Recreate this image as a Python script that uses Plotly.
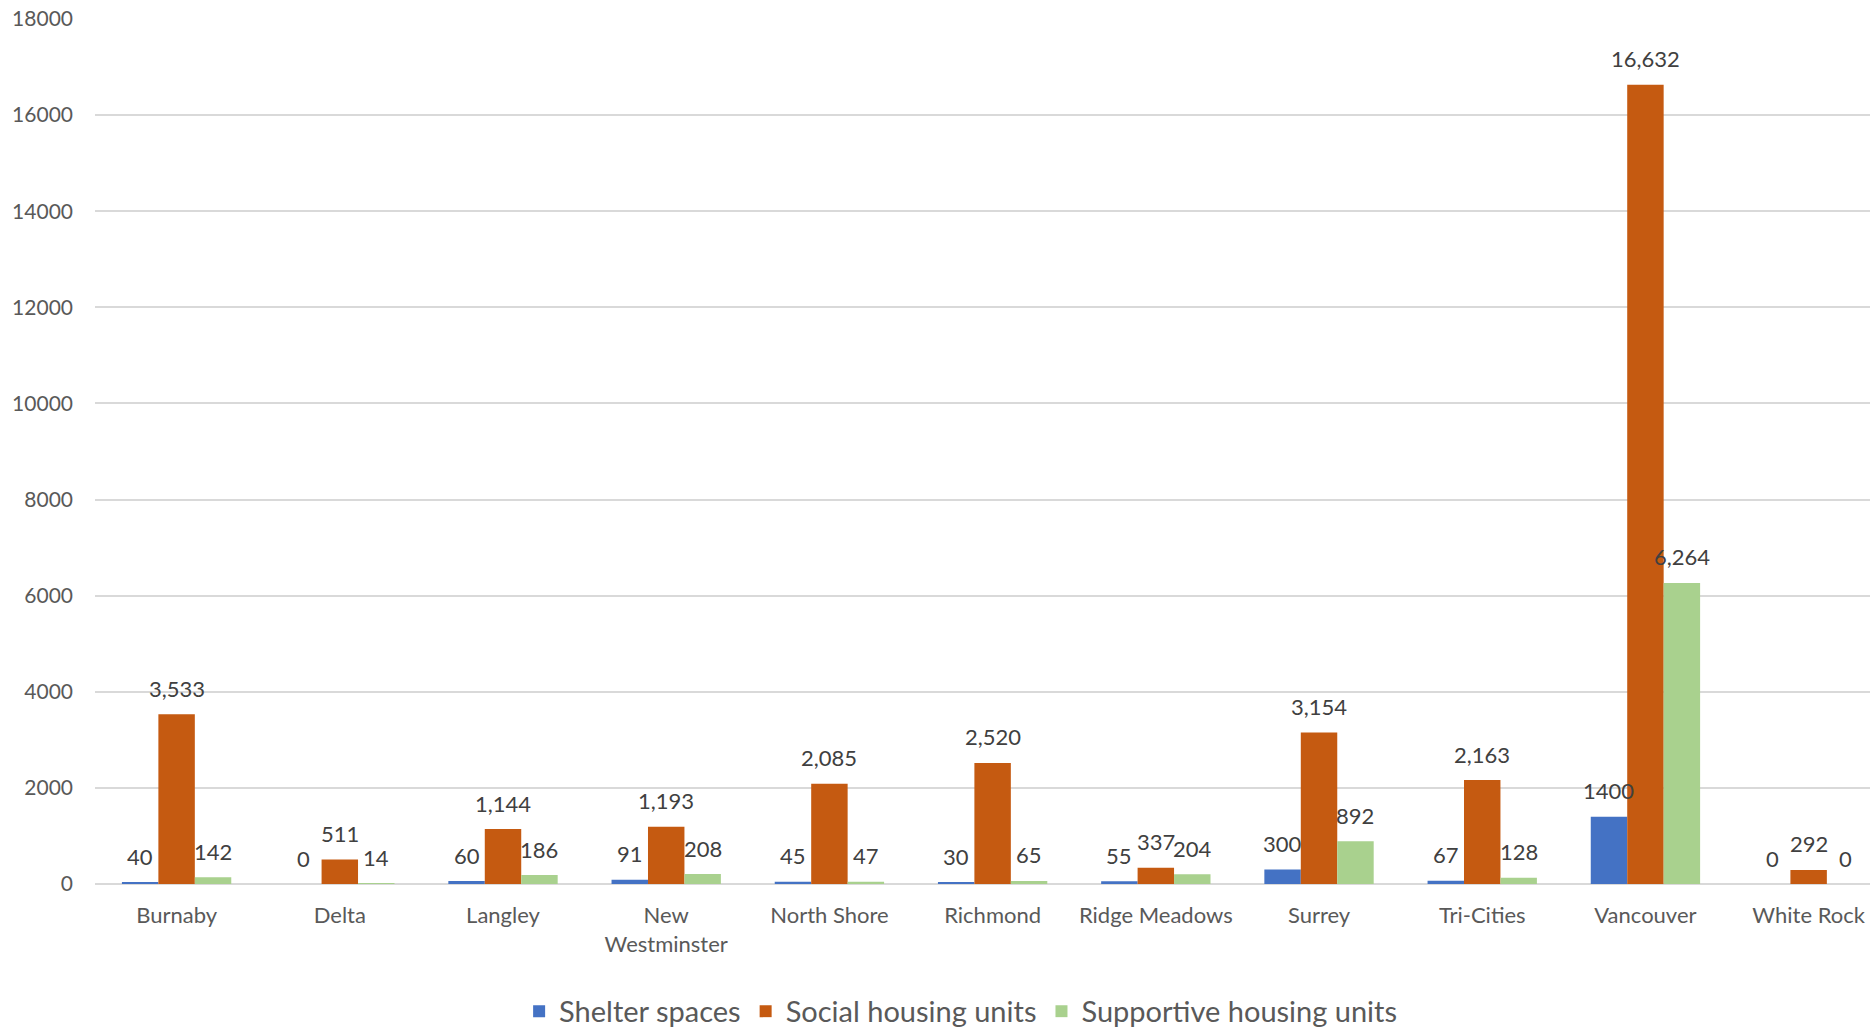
import plotly.graph_objects as go

categories = ["Burnaby", "Delta", "Langley", "New<br>Westminster", "North Shore", "Richmond",
              "Ridge Meadows", "Surrey", "Tri-Cities", "Vancouver", "White Rock"]
shelter = [40, 0, 60, 91, 45, 30, 55, 300, 67, 1400, 0]
social = [3533, 511, 1144, 1193, 2085, 2520, 337, 3154, 2163, 16632, 292]
supportive = [142, 14, 186, 208, 47, 65, 204, 892, 128, 6264, 0]
y_ticks = [0, 2000, 4000, 6000, 8000, 10000, 12000, 14000, 16000, 18000]

FONT = "Lato"
W, H = 1870, 1033
ML, MR, MT, MB = 95, 0, 19, 149
X_RANGE = [-0.5, 10.376]
BARGAP = 0.33

series = [
    ("Shelter spaces", shelter, "#4472C4", "{:d}"),
    ("Social housing units", social, "#C55A11", "{:,}"),
    ("Supportive housing units", supportive, "#A9D18E", "{:,}"),
]

fig = go.Figure()
for name, vals, color, fmt in series:
    fig.add_trace(go.Bar(
        name=name, x=categories, y=vals,
        marker=dict(color=color, line=dict(width=0)),
        hoverinfo="skip",
    ))

# data labels placed above each bar of the group
px_per_unit = (W - ML - MR) / (X_RANGE[1] - X_RANGE[0])
bar_px = px_per_unit * (1 - BARGAP) / len(series)
annotations = []
for i, (name, vals, color, fmt) in enumerate(series):
    offset = (i - (len(series) - 1) / 2) * bar_px
    for cat, v in zip(categories, vals):
        annotations.append(dict(
            x=cat, y=v, xref="x", yref="y", text=fmt.format(v),
            showarrow=False, xshift=offset, yshift=26, yanchor="middle",
            font=dict(family=FONT, size=22, color="#404040"),
        ))

fig.update_layout(
    width=W, height=H,
    margin=dict(l=ML, r=MR, t=MT, b=MB),
    paper_bgcolor="white", plot_bgcolor="white",
    barmode="group", bargap=BARGAP, bargroupgap=0,
    font=dict(family=FONT, color="#595959", size=21),
    annotations=annotations,
    showlegend=True,
    legend=dict(orientation="h", xref="container", yref="container",
                x=0.5137, xanchor="center", y=0.021, yanchor="middle",
                font=dict(family=FONT, size=29, color="#595959"),
                itemwidth=30, traceorder="normal"),
    xaxis=dict(range=X_RANGE, showgrid=False, showline=False, ticks="",
               tickfont=dict(family=FONT, size=22, color="#595959"),
               ticklabelstandoff=16),
    yaxis=dict(range=[0, 18000], tickvals=y_ticks, tickformat="d",
               showgrid=True, gridcolor="#D9D9D9", gridwidth=1.5,
               zeroline=True, zerolinecolor="#D9D9D9", zerolinewidth=1.5,
               showline=False, ticks="", ticklabelstandoff=21,
               tickfont=dict(family=FONT, size=21, color="#595959")),
)

fig.write_html("out.html", config={"displayModeBar": False},
               post_script="document.body.style.margin='0px';document.body.style.overflow='hidden';")
